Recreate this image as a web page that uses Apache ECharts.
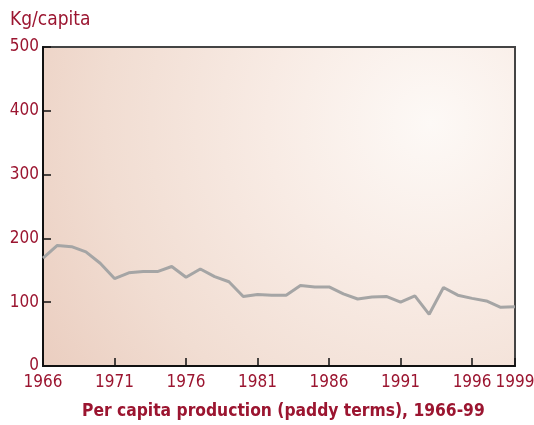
<!DOCTYPE html>
<html>
<head>
<meta charset="utf-8">
<script src="https://cdn.jsdelivr.net/npm/echarts@6/dist/echarts.min.js"></script>
<style>
  html, body { margin: 0; padding: 0; background: #fff; }
  #chart { width: 534px; height: 425px; }
</style>
</head>
<body>
<div id="chart"></div>
<script>
// years 1966..1999
var years = ['1966','1967','1968','1969','1970','1971','1972','1973','1974','1975',
  '1976','1977','1978','1979','1980','1981','1982','1983','1984','1985',
  '1986','1987','1988','1989','1990','1991','1992','1993','1994','1995',
  '1996','1997','1998','1999'];
// kg per capita
var perCapita = [169, 189, 187, 179, 161, 137, 146, 148, 148, 156,
  139, 152, 140, 132, 109, 112, 111, 111, 126, 124,
  124, 113, 105, 108, 109, 100, 110, 81, 123, 111,
  106, 102, 92, 93];
var labelYears = ['1966','1971','1976','1981','1986','1991','1996','1999'];
var yTicks = [0, 100, 200, 300, 400, 500];

var red = '#9b1530';
var font = 'DejaVu Sans Condensed';

var myChart = echarts.init(document.getElementById('chart'));

function showYear(i, v) {
  return labelYears.indexOf(years[i]) >= 0;
}

var option = {
  animation: false,
  grid: {
    left: 43, right: 19, top: 47, bottom: 59,
    outerBoundsMode: 'none',
    show: true,
    borderColor: '#444',
    borderWidth: 2,
    backgroundColor: {
      type: 'radial', x: 0.82, y: 0.24, r: 1.45,
      colorStops: [
        { offset: 0, color: '#fdf9f6' },
        { offset: 0.35, color: '#f8ebe4' },
        { offset: 0.7, color: '#f1ddd2' },
        { offset: 1, color: '#eacdbf' }
      ]
    }
  },
  title: {
    text: 'Per capita production (paddy terms), 1966-99',
    left: 77, top: 398,
    textStyle: { color: red, fontFamily: font, fontWeight: 'bold', fontSize: 17.3 }
  },
  xAxis: {
    type: 'category',
    data: years,
    boundaryGap: false,
    axisLine: { lineStyle: { color: '#111', width: 2 } },
    axisTick: { inside: true, length: 8, interval: showYear, lineStyle: { color: '#111', width: 1.5 } },
    axisLabel: { interval: showYear, color: red, fontFamily: font, fontSize: 17, margin: 8 },
    splitLine: { show: false }
  },
  yAxis: {
    type: 'value',
    min: yTicks[0], max: yTicks[yTicks.length - 1], interval: 100,
    name: 'Kg/capita',
    nameLocation: 'end',
    nameGap: 17,
    nameTextStyle: { color: red, fontFamily: font, fontSize: 19, align: 'left', padding: [0, 0, 0, -33] },
    axisLine: { show: true, lineStyle: { color: '#111', width: 2 } },
    axisTick: { show: true, inside: true, length: 8, lineStyle: { color: '#111', width: 1.5 } },
    axisLabel: { color: red, fontFamily: font, fontSize: 17, margin: 4 },
    splitLine: { show: false }
  },
  series: [{
    type: 'line',
    data: perCapita,
    showSymbol: false,
    lineStyle: { color: '#a5a5a5', width: 3 }
  }]
};

myChart.setOption(option);
</script>
</body>
</html>
